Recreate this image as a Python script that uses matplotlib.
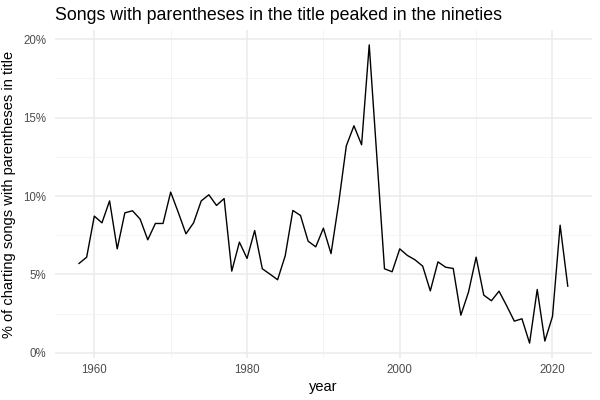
import matplotlib
matplotlib.use("Agg")
import matplotlib.pyplot as plt
from matplotlib.ticker import FuncFormatter, MultipleLocator

plt.rcParams['font.family'] = ['Liberation Sans', 'DejaVu Sans']

# share of charting songs with parentheses in the title (percent)
years = list(range(1958, 2023))
pct = [
    5.70, 6.10, 8.72, 8.29, 9.69, 6.63, 8.93, 9.06, 8.53, 7.21,   # 1958-1967
    8.25, 8.25, 10.25, 8.95, 7.59, 8.29, 9.69, 10.08, 9.40, 9.84,  # 1968-1977
    5.21, 7.06, 6.02, 7.80, 5.36, 5.02, 4.66, 6.19, 9.08, 8.76,    # 1978-1987
    7.12, 6.76, 7.95, 6.33, 9.55, 13.20, 14.48, 13.27, 19.64, 12.5,  # 1988-1997
    5.36, 5.17, 6.63, 6.21, 5.93, 5.53, 3.95, 5.80, 5.46, 5.38,    # 1998-2007
    2.40, 3.87, 6.10, 3.68, 3.32, 3.93, 3.00, 2.02, 2.17, 0.62,    # 2008-2017
    4.04, 0.75, 2.32, 8.14, 4.25,                                  # 2018-2022
]

title = "Songs with parentheses in the title peaked in the nineties"
xlabel = "year"
ylabel = "% of charting songs with parentheses in title"

fig = plt.figure(figsize=(6, 4), dpi=100, facecolor="white")
ax = fig.add_axes([0.091, 0.105, 0.896, 0.82])

ax.plot(years, pct, color="black", linewidth=1.0, zorder=3)
ax.margins(x=0.05, y=0.05)

# ggplot theme_minimal look
for spine in ax.spines.values():
    spine.set_visible(False)
ax.xaxis.set_major_locator(MultipleLocator(20))
ax.xaxis.set_minor_locator(MultipleLocator(10))
ax.yaxis.set_major_locator(MultipleLocator(5))
ax.yaxis.set_minor_locator(MultipleLocator(2.5))
ax.yaxis.set_major_formatter(FuncFormatter(lambda v, p: f"{v:.0f}%"))
ax.grid(which="major", color="#EBEBEB", linewidth=1.1, zorder=0)
ax.grid(which="minor", color="#F3F3F3", linewidth=0.6, zorder=0)
ax.set_axisbelow(True)
ax.tick_params(which="both", length=0, labelsize=8.3, labelcolor="#4D4D4D")
ax.tick_params(axis="x", pad=4)
ax.tick_params(axis="y", pad=6)

ax.set_xlabel(xlabel, fontsize=10.5, labelpad=3)
ax.set_ylabel(ylabel, fontsize=10.5, labelpad=5)
fig.text(0.091, 0.962, title, fontsize=12.8, ha="left", va="center")

fig.savefig("out.png", dpi=100, facecolor="white")
